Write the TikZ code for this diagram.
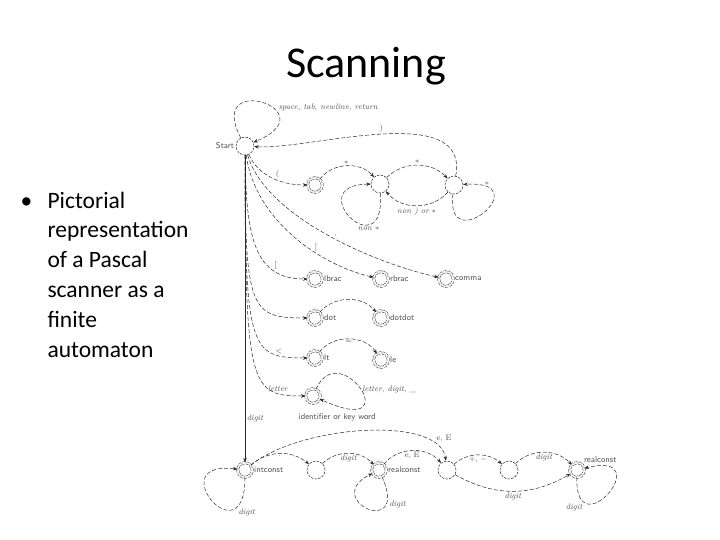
\documentclass[tikz,border=0pt]{standalone}
\usepackage{fontspec}
\newfontfamily\slidefont{Carlito}
\usepackage{xcolor}
\usepackage{tikz}
\usetikzlibrary{arrows.meta}
\definecolor{inkgray}{HTML}{2b2b2b}
\definecolor{labgray}{HTML}{505050}

\begin{document}
\begin{tikzpicture}[x=1pt, y=-1pt,
  st/.style={circle, draw=inkgray, line width=0.5pt, dash pattern=on 2.5pt off 1.2pt, minimum size=18pt, inner sep=0pt},
  acc/.style={st, double, double distance=1.8pt, minimum size=14.5pt},
  tr/.style={draw=inkgray, line width=0.5pt, dash pattern=on 4pt off 2pt, -{Stealth[length=4.5pt,width=3.5pt]}},
  lab/.style={font=\fontsize{8}{9.6}\selectfont\itshape, text=labgray, inner sep=1.5pt},
  sym/.style={font=\fontsize{8}{9.6}\selectfont, text=labgray, inner sep=1.5pt},
  nm/.style={font=\fontsize{8.5}{10}\selectfont\sffamily, text=labgray, inner sep=1.5pt}]
  \useasboundingbox (0,0) rectangle (720,540);

  % Title and bullet text
  \node[anchor=base, font=\slidefont\fontsize{44}{50}\selectfont] (title) at (366,78) {Scanning};
  \node[anchor=base west, font=\slidefont\fontsize{23.5}{28}\selectfont] (bul) at (17,208) {\textbullet};
  \foreach \txt [count=\i] in {Pictorial, representation, of a Pascal, scanner as a, finite, automaton}
    \node[anchor=base west, font=\slidefont\fontsize{23.5}{28}\selectfont] (line\i) at (44,{208+29.8*(\i-1)}) {\txt};

  % States
  \node[st, label={[nm]left:Start}] (start) at (245,146) {};
  \node[acc] (lpar) at (315,185) {};
  \node[st] (cbody) at (380,184) {};
  \node[st] (cstar) at (454,185) {};
  \node[acc, label={[nm]right:lbrac}] (lbrac) at (315,279) {};
  \node[acc, label={[nm]right:rbrac}] (rbrac) at (381,279) {};
  \node[acc, label={[nm]right:comma}] (comma) at (446,279) {};
  \node[acc, label={[nm]right:dot}] (dot) at (315,318) {};
  \node[acc, label={[nm]right:dotdot}] (dotdot) at (381,318) {};
  \node[acc, label={[nm]right:lt}] (lt) at (315,358) {};
  \node[acc, label={[nm]right:le}] (le) at (381,360) {};
  \node[acc] (ident) at (313,396) {};
  \node[nm, anchor=west] (identlab) at (297,417) {identifier or key word};
  \node[acc, label={[nm]right:intconst}] (intconst) at (245,470) {};
  \node[st] (frac) at (316,470) {};
  \node[acc, label={[nm]right:realconst}] (realconst) at (379,470) {};
  \node[st] (expo) at (447,470) {};
  \node[st] (sign) at (509,470) {};
  \node[acc, label={[nm]45:realconst}] (expconst) at (577,470) {};

  % White space and comments
  \draw[tr] (start) .. controls (205,70) and (330,110) .. (start)
    node[lab, pos=0.6, right=5pt] (wslab) {space, tab, newline, return};
  \draw[tr] (start) .. controls (258,175) and (280,185) .. (lpar) node[sym, pos=0.6, above] (lparlab) {(};
  \draw[tr] (lpar) to[bend left=50] node[sym, above] (st1lab) {$*$} (cbody);
  \draw[tr] (cbody) to[bend left=45] node[sym, above] (st2lab) {$*$} (cstar);
  \draw[tr] (cstar) to[bend left=50] node[lab, below] (nrlab) {non ) or $*$} (cbody);
  \draw[tr] (cbody) .. controls (385,270) and (300,185) .. (cbody) node[lab, pos=0.28, below] (nslab) {non $*$};
  \draw[tr] (cstar) .. controls (445,260) and (540,180) .. (cstar) node[sym, pos=0.85, above] (sslab) {$*$};
  \draw[tr] (cstar) .. controls (470,100) and (310,150) .. (start) node[sym, pos=0.5, above] (rparlab) {)};

  % Brackets and comma
  \draw[tr] (start) .. controls (246,240) and (255,279) .. (lbrac) node[sym, pos=0.75, above] (lbrlab) {[};
  \draw[tr] (start) .. controls (255,220) and (320,265) .. (rbrac) node[sym, pos=0.65, above] (rbrlab) {]};
  \draw[tr] (start) .. controls (265,215) and (370,262) .. (comma) node[sym, pos=0.55, above] (comlab) {,};

  % Dot, less-than, identifiers
  \draw[tr] (start) .. controls (245,310) and (250,318) .. (dot) node[sym, pos=0.8, above] (dotlab) {.};
  \draw[tr] (dot) to[bend left=50] node[sym, below] (ddlab) {.} (dotdot);
  \draw[tr] (start) .. controls (245,350) and (250,358) .. (lt) node[sym, pos=0.8, above] (ltlab) {$<$};
  \draw[tr] (lt) to[bend left=55] node[sym, below] (eqlab) {$=$} (le);
  \draw[tr] (start) .. controls (245,388) and (250,396) .. (ident) node[lab, pos=0.8, above] (letlab) {letter};
  \draw[tr] (ident) .. controls (340,335) and (410,440) .. (ident)
    node[lab, pos=0.5, right] (idlooplab) {letter, digit, \_};

  % Numbers
  \draw[draw=inkgray, line width=0.5pt, -{Stealth[length=4.5pt,width=3.5pt]}] (start) -- (intconst)
    node[lab, pos=0.856, right] (diglab) {digit};
  \draw[tr] (intconst) .. controls (245,560) and (160,460) .. (intconst) node[lab, pos=0.2, below right] (il) {digit};
  \draw[tr] (intconst) to[bend left=40] node[sym, below] (fdot) {.} (frac);
  \draw[tr] (frac) to[bend left=45] node[lab, below] (fd) {digit} (realconst);
  \draw[tr] (realconst) .. controls (410,540) and (320,500) .. (realconst) node[lab, pos=0.15, below right] (rl) {digit};
  \draw[tr] (realconst) to[bend left=50] node[sym, below] (re) {e, E} (expo);
  \draw[tr] (intconst) .. controls (300,425) and (440,415) .. (expo) node[sym, pos=0.85, above right] (ie) {e, E};
  \draw[tr] (expo) to[bend left=40] node[sym, below] (es) {$+$, $-$} (sign);
  \draw[tr] (sign) to[bend left=45] node[lab, below] (sd) {digit} (expconst);
  \draw[tr] (expo) to[bend right=30] node[lab, below] (ed) {digit} (expconst);
  \draw[tr] (expconst) .. controls (575,550) and (660,450) .. (expconst) node[lab, pos=0.2, below left] (xl) {digit};
\end{tikzpicture}
\end{document}
